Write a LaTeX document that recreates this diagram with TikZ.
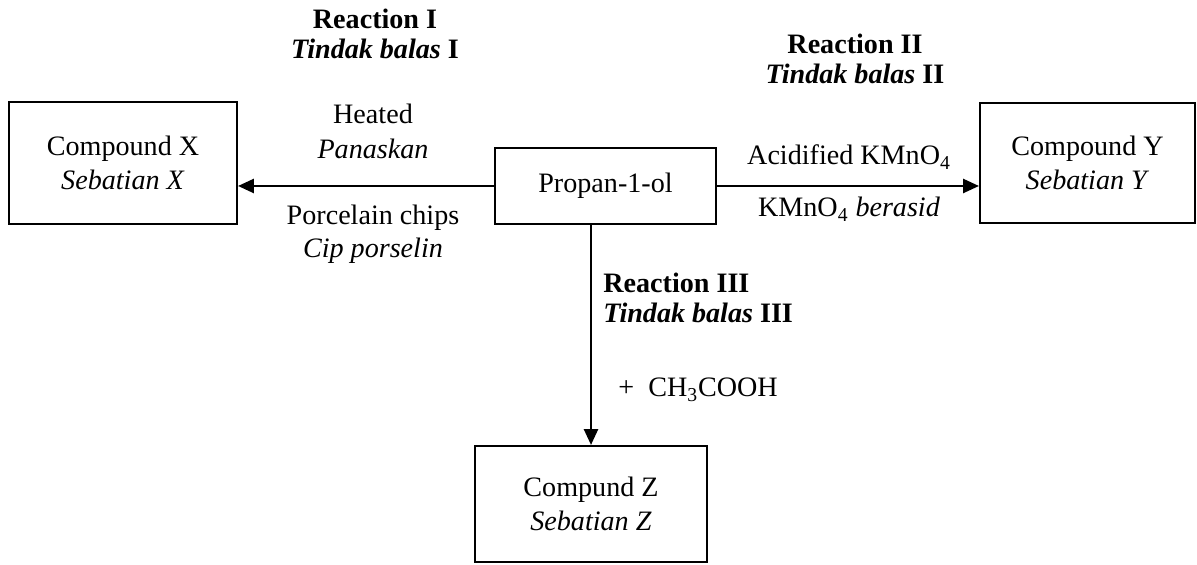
\documentclass[tikz,border=0pt]{standalone}
\usepackage{fontspec}
\setmainfont{Liberation Serif}
\usetikzlibrary{arrows.meta}

\tikzset{
    compbox/.style={draw, line width=1.2pt, align=center, inner sep=0pt},
    lbl/.style={align=center, inner sep=0pt},
    rxn/.style={-{Triangle[length=9pt,width=8pt]}, line width=1.2pt}
}

\begin{document}
\begin{tikzpicture}[font=\fontsize{16}{19}\selectfont]
    \useasboundingbox (0,0) rectangle (23.94,11.3);

    % Boxes
    \node[compbox, minimum width=4.56cm, minimum height=2.44cm] (cx) at (2.46,8.04) {Compound X\\\textit{Sebatian X}};
    \node[compbox, minimum width=4.42cm, minimum height=1.52cm] (prop) at (12.11,7.58) {Propan-1-ol};
    \node[compbox, minimum width=4.3cm, minimum height=2.4cm] (cy) at (21.75,8.04) {Compound Y\\\textit{Sebatian Y}};
    \node[compbox, minimum width=4.64cm, minimum height=2.32cm] (cz) at (11.82,1.22) {Compund Z\\\textit{Sebatian Z}};

    % Reaction I (to X)
    \draw[rxn] (prop.west) -- (prop.west -| cx.east);
    \node[lbl, font=\fontsize{16}{17}\selectfont\bfseries] (r1) at (7.5,10.62) {Reaction I\\\textit{Tindak balas} I};
    \node[lbl, font=\fontsize{16}{20}\selectfont] (heat) at (7.46,8.68) {Heated\\\textit{Panaskan}};
    \node[lbl, font=\fontsize{16}{19}\selectfont] (chips) at (7.46,6.62) {Porcelain chips\\\textit{Cip porselin}};

    % Reaction II (to Y)
    \draw[rxn] (prop.east) -- (prop.east -| cy.west);
    \node[lbl, font=\fontsize{16}{17}\selectfont\bfseries] (r2) at (17.1,10.12) {Reaction II\\\textit{Tindak balas} II};
    \node[lbl] (acid) at (16.98,8.16) {Acidified KMnO\textsubscript{4}};
    \node[lbl] (beras) at (16.98,7.12) {KMnO\textsubscript{4} \textit{berasid}};

    % Reaction III (to Z)
    \draw[rxn] (prop.south -| cz.north) -- (cz.north);
    \node[lbl, anchor=west, align=left, font=\fontsize{16}{17}\selectfont\bfseries] (r3) at (12.06,5.35) {Reaction III\\\textit{Tindak balas} III};
    \node[lbl, anchor=west] (ethan) at (12.36,3.5) {+\ \ CH\textsubscript{3}COOH};
\end{tikzpicture}
\end{document}
